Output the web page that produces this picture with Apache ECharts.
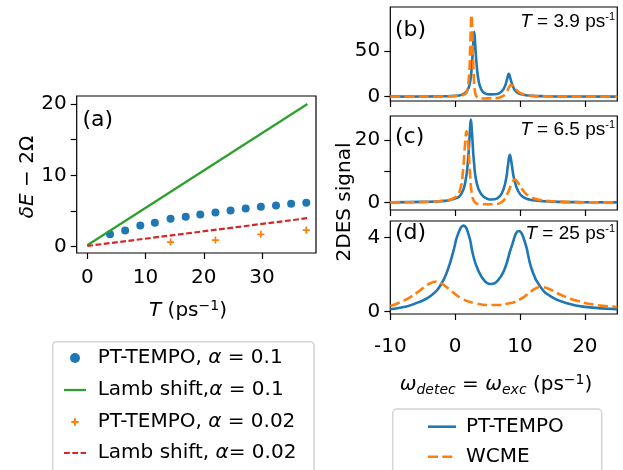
<!DOCTYPE html>
<html>
<head>
<meta charset="utf-8">
<script src="https://cdn.jsdelivr.net/npm/echarts@6.0.0/dist/echarts.min.js"></script>
<style>
  html, body { margin: 0; padding: 0; background: #fff; }
  #main { width: 623px; height: 470px; }
</style>
</head>
<body>
<div id="main"></div>
<script>
const FONT = 'DejaVu Sans'
const BLUE = '#1f77b4', ORANGE = '#ff7f0e', GREEN = '#2ca02c', RED = '#d62728'

// (a) 能量移动 vs T
const tA01 = [3.9, 6.5, 9.1, 11.6, 14.3, 16.9, 19.4, 22.0, 24.6, 27.2, 29.8, 32.4, 35.0, 37.6]
const ptTempo01 = [1.73, 2.29, 2.99, 3.36, 3.93, 4.2, 4.53, 4.81, 5.09, 5.37, 5.6, 5.79, 6.03, 6.17]
const tA002 = [14.3, 22.0, 29.8, 37.6]
const ptTempo002 = [0.65, 0.93, 1.73, 2.34]
const lambT = [0, 37.8]
const lamb01 = [0.2, 20.0]
const lamb002 = [0.1, 4.0]

// (b) T = 3.9
const bPtX = [-10, -5, -2, 0, 1, 1.8, 2.3, 2.6, 2.8, 2.93, 3.1, 3.3, 3.6, 4.0, 4.5, 5.5, 6.5, 7.2, 7.7, 8.0, 8.27, 8.55, 8.9, 9.4, 10.2, 11.5, 14, 18, 25]
const bPtY = [0.1, 0.2, 0.5, 0.9, 2, 6, 16, 37, 58, 71, 56, 36, 18, 8.5, 4, 2.5, 3, 6, 12, 19, 25, 19, 11.5, 5.5, 2.6, 1.2, 0.5, 0.2, 0.1]
const bWcX = [-10, -2, 0, 1, 1.7, 2.1, 2.3, 2.45, 2.5, 2.6, 2.75, 2.9, 3.1, 3.4, 3.8, 5, 6.5, 7.3, 7.9, 8.3, 8.6, 9.0, 9.5, 10.2, 11.5, 14, 18, 25]
const bWcY = [0, 0.3, 0.7, 1.5, 4, 20, 50, 85, 89.5, 80, 45, 18, 4, -1, -2, -1.8, -1.5, 0.5, 5, 10, 12.8, 11, 7, 3.5, 1.2, 0.4, 0.1, 0]

// (c) T = 6.5
const cPtX = [-10, -5, -2, 0, 1, 1.6, 2.0, 2.25, 2.42, 2.6, 2.9, 3.3, 4.0, 5.0, 5.6, 6.5, 7.2, 7.8, 8.15, 8.43, 8.7, 9.1, 9.7, 10.5, 12, 15, 20, 25]
const cPtY = [0.1, 0.25, 0.5, 1.3, 3, 7, 14, 22, 26.5, 22, 13, 6.5, 2.8, 1.2, 1.0, 1.4, 3, 7, 12, 15.3, 12.5, 7.5, 3.8, 1.8, 0.8, 0.35, 0.15, 0.1]
const cWcX = [-10, -5, -2, 0, 0.8, 1.2, 1.5, 1.75, 2.0, 2.3, 2.6, 3.0, 3.6, 5, 6.5, 7.5, 8.2, 8.7, 9.2, 9.8, 10.5, 11.5, 13, 16, 20, 25]
const cWcY = [0.1, 0.2, 0.6, 1.7, 4.5, 10, 18, 22.8, 19, 9, 2.5, 0.2, -0.4, -0.5, -0.4, 0.8, 3.5, 6, 7.35, 6, 3.8, 2, 0.9, 0.35, 0.15, 0.1]

// (d) T = 25
const dPtX = [-10, -7.75, -5.7, -3.64, -2.1, -1.07, -0.3, 0.46, 1.29, 2.1, 2.77, 3.54, 4.57, 5.5, 6.63, 7.66, 8.69, 9.82, 10.74, 11.77, 13.05, 14.85, 17.4, 20, 25]
const dPtY = [0.12, 0.25, 0.49, 0.88, 1.51, 2.32, 3.22, 4.2, 4.63, 4.12, 3.04, 2.23, 1.64, 1.48, 1.69, 2.32, 3.49, 4.34, 3.76, 2.32, 1.37, 0.79, 0.43, 0.25, 0.12]
const dWcX = [-10, -7.75, -5.7, -4.16, -2.87, -2.1, -0.56, 0.98, 3.04, 5.6, 8.17, 10.23, 11.77, 13.2, 14.3, 16.4, 18.95, 22, 25]
const dWcY = [0.3, 0.61, 1.06, 1.46, 1.62, 1.51, 1.1, 0.7, 0.45, 0.35, 0.43, 0.7, 1.1, 1.32, 1.24, 0.88, 0.56, 0.34, 0.25]

// 刻度
const xTicksA = [0, 10, 20, 30]
const yTicksA = [0, 5, 10, 15, 20]
const yLabelsA = [0, 10, 20]
const xTicksR = [-10, 0, 10, 20]
const yTicksB = [0, 50]
const yTicksC = [0, 10, 20]
const yLabelsC = [0, 20]
const yTicksD = [0, 4]

const tempLabels = ['3.9', '6.5', '25']
const legendALabels = ['PT-TEMPO, α = 0.1', 'Lamb shift,α = 0.1', 'PT-TEMPO, α = 0.02', 'Lamb shift, α= 0.02']
const legendRLabels = ['PT-TEMPO', 'WCME']

const pairs = (xs, ys) => xs.map((x, i) => [x, ys[i]])

const chart = echarts.init(document.getElementById('main'))

const gridBase = { show: true, borderColor: '#000', borderWidth: 1.2, backgroundColor: 'transparent' }
const grids = [
  { left: 76.7, top: 96, width: 239.3, height: 157 },
  { left: 390.3, top: 7, width: 227, height: 94 },
  { left: 390.3, top: 116, width: 227, height: 94 },
  { left: 390.3, top: 221, width: 227, height: 93 }
].map(g => Object.assign({}, gridBase, g))

const axisBase = (ticks, labels, showLabel, margin) => ({
  type: 'value',
  axisLine: { show: false, onZero: false },
  splitLine: { show: false },
  axisTick: { show: true, customValues: ticks, length: 6, lineStyle: { color: '#000', width: 1.2 } },
  axisLabel: { show: showLabel, customValues: labels, fontSize: 20, fontFamily: FONT, color: '#000', margin: margin }
})

const xAxes = [
  Object.assign(axisBase(xTicksA, xTicksA, true, 14.5), { gridIndex: 0, min: -1.82, max: 39.27 }),
  Object.assign(axisBase(xTicksR, xTicksR, false, 12), { gridIndex: 1, min: -10, max: 25 }),
  Object.assign(axisBase(xTicksR, xTicksR, false, 12), { gridIndex: 2, min: -10, max: 25 }),
  Object.assign(axisBase(xTicksR, xTicksR, true, 23), { gridIndex: 3, min: -10, max: 25 })
]
const yAxes = [
  Object.assign(axisBase(yTicksA, yLabelsA, true, 10), { gridIndex: 0, min: -0.88, max: 21.12 }),
  Object.assign(axisBase(yTicksB, yTicksB, true, 10), { gridIndex: 1, min: -4.7, max: 98.1 }),
  Object.assign(axisBase(yTicksC, yLabelsC, true, 10), { gridIndex: 2, min: -2.33, max: 27.65 }),
  Object.assign(axisBase(yTicksD, yTicksD, true, 10), { gridIndex: 3, min: -0.135, max: 4.88 })
]

const plusPath = 'path://M3,0h2v3h3v2h-3v3h-2v-3h-3v-2h3z'
const redDash = [5.8, 2.5]
const orangeDash = [10, 4.3]

const series = [
  {
    name: legendALabels[0], type: 'scatter', xAxisIndex: 0, yAxisIndex: 0,
    symbol: 'circle', symbolSize: 8, color: BLUE, itemStyle: { opacity: 1 },
    data: pairs(tA01, ptTempo01)
  },
  {
    name: legendALabels[1], type: 'line', xAxisIndex: 0, yAxisIndex: 0,
    symbol: 'none', color: GREEN, lineStyle: { color: GREEN, width: 2.2 },
    data: pairs(lambT, lamb01)
  },
  {
    name: legendALabels[2], type: 'scatter', xAxisIndex: 0, yAxisIndex: 0,
    symbol: plusPath, symbolSize: 7, color: ORANGE, itemStyle: { opacity: 1 },
    data: pairs(tA002, ptTempo002)
  },
  {
    name: legendALabels[3], type: 'line', xAxisIndex: 0, yAxisIndex: 0,
    symbol: 'none', color: RED, lineStyle: { color: RED, width: 2.2, type: redDash },
    data: pairs(lambT, lamb002)
  }
]

// 右边三个面板
const panels = [[bPtX, bPtY, bWcX, bWcY], [cPtX, cPtY, cWcX, cWcY], [dPtX, dPtY, dWcX, dWcY]]
panels.forEach((p, k) => {
  series.push({
    name: legendRLabels[0], type: 'line', xAxisIndex: k + 1, yAxisIndex: k + 1,
    symbol: 'none', smooth: 0.5, color: BLUE,
    lineStyle: { color: BLUE, width: 2.6 },
    data: pairs(p[0], p[1])
  })
  series.push({
    name: legendRLabels[1], type: 'line', xAxisIndex: k + 1, yAxisIndex: k + 1,
    symbol: 'none', smooth: 0.5, color: ORANGE,
    lineStyle: { color: ORANGE, width: 2.6, type: orangeDash },
    data: pairs(p[2], p[3])
  })
})

const txt = (x, y, text, extra) => ({
  type: 'text', x: x, y: y, silent: true,
  style: Object.assign({ text: text, fontFamily: FONT, fontSize: 20, fill: '#000', verticalAlign: 'middle' }, extra)
})
const seg = (x1, y1, x2, y2, color, width, dash) => ({
  type: 'line', silent: true,
  shape: { x1: x1, y1: y1, x2: x2, y2: y2 },
  style: { stroke: color, lineWidth: width, lineDash: dash || null }
})

const mathRich = {
  i: { fontFamily: FONT, fontSize: 20, fontStyle: 'italic', lineHeight: 24 },
  n: { fontFamily: FONT, fontSize: 20, lineHeight: 24 },
  sub: { fontFamily: FONT, fontSize: 14, fontStyle: 'italic', lineHeight: 14, verticalAlign: 'bottom' },
  sup: { fontFamily: FONT, fontSize: 14, lineHeight: 14, verticalAlign: 'top' }
}
const annRich = {
  i: { fontFamily: 'Liberation Sans', fontSize: 19, fontStyle: 'italic', lineHeight: 22 },
  n: { fontFamily: 'Liberation Sans', fontSize: 19, lineHeight: 22 },
  sup: { fontFamily: 'Liberation Sans', fontSize: 11, lineHeight: 11, verticalAlign: 'top' }
}

const graphic = [
  txt(82.5, 120, '(a)', { fontSize: 22 }),
  txt(395, 30, '(b)', { fontSize: 22 }),
  txt(395, 137, '(c)', { fontSize: 22 }),
  txt(395, 233, '(d)', { fontSize: 22 }),
  // 坐标轴名称
  Object.assign(txt(28, 177, '{i|δE}{n| − 2Ω}', { align: 'center', rich: mathRich }), { rotation: Math.PI / 2 }),
  txt(188, 311, '{i|T}{n| (ps}{sup|−1}{n|)}', { align: 'center', rich: mathRich }),
  Object.assign(txt(344.5, 202, '2DES signal', { align: 'center' }), { rotation: Math.PI / 2 }),
  txt(496, 385, '{i|ω}{sub|detec}{n| = }{i|ω}{sub|exc}{n| (ps}{sup|−1}{n|)}', { align: 'center', rich: mathRich })
]
const annY = [22, 130, 234]
tempLabels.forEach((t, k) => {
  graphic.push(txt(615, annY[k], '{i|T}{n| = ' + t + ' ps}{sup|-1}', { align: 'right', rich: annRich }))
})

// 图例 (a)
const legRich = { i: { fontFamily: FONT, fontSize: 20, fontStyle: 'italic' } }
const rowsA = [358, 390, 422, 453]
graphic.push({
  type: 'rect', silent: true,
  shape: { x: 52.7, y: 341.7, width: 261.3, height: 150, r: 4 },
  style: { fill: '#fff', stroke: '#d4d4d4', lineWidth: 1.5 }
})
graphic.push({ type: 'circle', silent: true, shape: { cx: 75, cy: rowsA[0], r: 5 }, style: { fill: BLUE } })
graphic.push(seg(64, rowsA[1], 86, rowsA[1], GREEN, 2.2))
graphic.push(seg(71.3, rowsA[2], 78.7, rowsA[2], ORANGE, 2))
graphic.push(seg(75, rowsA[2] - 3.7, 75, rowsA[2] + 3.7, ORANGE, 2))
graphic.push(seg(64, rowsA[3], 86, rowsA[3], RED, 2.2, redDash))
legendALabels.forEach((s, k) => {
  graphic.push(txt(97.7, rowsA[k], s.replace('α', '{i|α}'), { rich: legRich }))
})

// 图例 (b-d)
const rowsR = [426.7, 456.7]
graphic.push({
  type: 'rect', silent: true,
  shape: { x: 392.7, y: 409, width: 209, height: 100, r: 4 },
  style: { fill: '#fff', stroke: '#d4d4d4', lineWidth: 1.5 }
})
graphic.push(seg(428, rowsR[0], 456, rowsR[0], BLUE, 2.6))
graphic.push(seg(428, rowsR[1], 456, rowsR[1], ORANGE, 2.6, orangeDash))
legendRLabels.forEach((s, k) => {
  graphic.push(txt(466, rowsR[k], s))
})

chart.setOption({
  animation: false,
  backgroundColor: '#fff',
  grid: grids,
  xAxis: xAxes,
  yAxis: yAxes,
  series: series,
  graphic: graphic
})
</script>
</body>
</html>
